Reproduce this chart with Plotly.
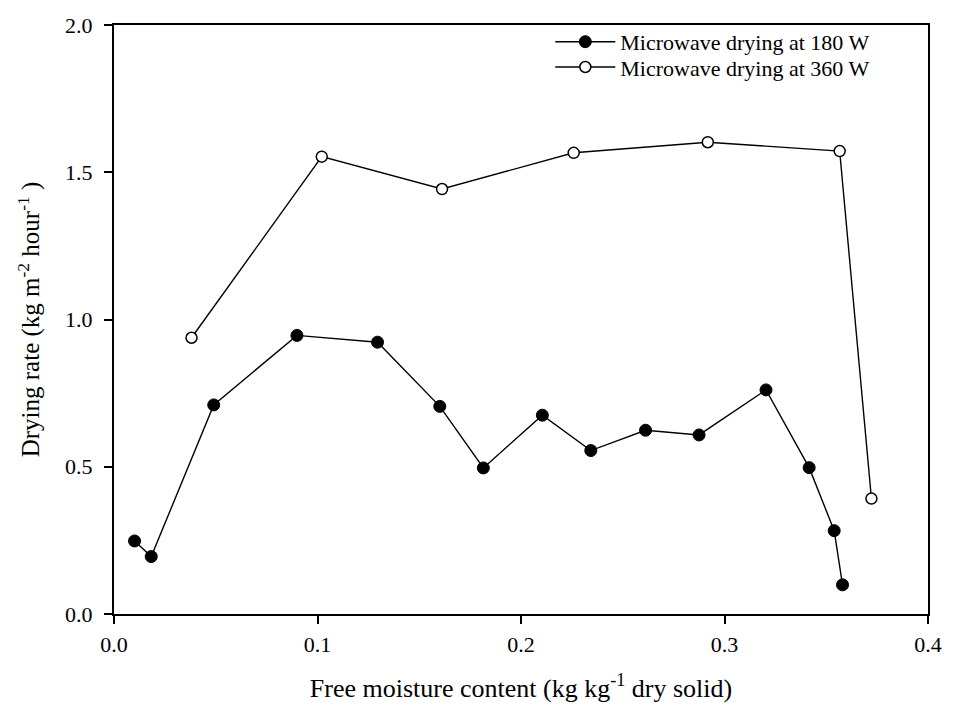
import plotly.graph_objects as go

# Microwave drying at 180 W
x_180 = [0.0101, 0.0183, 0.049, 0.0899, 0.1295, 0.1601, 0.1815, 0.2105, 0.2343, 0.2612, 0.2875, 0.3204, 0.3416, 0.3539, 0.358]
y_180 = [0.248, 0.195, 0.710, 0.946, 0.923, 0.705, 0.496, 0.675, 0.555, 0.624, 0.608, 0.761, 0.497, 0.283, 0.099]

# Microwave drying at 360 W
x_360 = [0.0381, 0.1021, 0.1612, 0.2259, 0.2918, 0.3566, 0.3722]
y_360 = [0.938, 1.553, 1.443, 1.566, 1.602, 1.572, 0.392]

x_ticks = [0.0, 0.1, 0.2, 0.3, 0.4]
y_ticks = [0.0, 0.5, 1.0, 1.5, 2.0]

FONT = "Liberation Serif, serif"

fig = go.Figure()
fig.add_trace(go.Scatter(
    x=x_180, y=y_180, mode="lines+markers", name="Microwave drying at 180 W",
    line=dict(color="black", width=1.4),
    marker=dict(symbol="circle", size=12, color="black", line=dict(color="black", width=1)),
    legend="legend",
))
fig.add_trace(go.Scatter(
    x=x_360, y=y_360, mode="lines+markers", name="Microwave drying at 360 W",
    line=dict(color="black", width=1.4),
    marker=dict(symbol="circle", size=11, color="white", line=dict(color="black", width=1.5)),
    legend="legend2",
))

axis_common = dict(
    showline=True, linecolor="black", linewidth=2, mirror=True,
    ticks="outside", ticklen=8, tickwidth=1.6, tickcolor="black",
    showgrid=False, zeroline=False,
    tickfont=dict(family=FONT, size=22, color="black"),
)

fig.update_xaxes(
    range=[0, 0.4], tickvals=x_ticks, ticktext=[f"{v:.1f}" for v in x_ticks],
    title=dict(text="Free moisture content (kg kg<sup>-1</sup> dry solid)",
               font=dict(family=FONT, size=26, color="black"), standoff=22),
    ticklabelstandoff=2,
    **axis_common,
)
fig.update_yaxes(
    range=[0, 2.0], tickvals=y_ticks, ticktext=[f"{v:.1f}" for v in y_ticks],
    title=dict(text="Drying rate (kg m<sup>-2</sup> hour<sup>-1</sup> )",
               font=dict(family=FONT, size=25, color="black"), standoff=18),
    ticklabelstandoff=7,
    **axis_common,
)

legend_style = dict(
    xanchor="left", yanchor="top",
    bgcolor="rgba(0,0,0,0)", borderwidth=0,
    font=dict(family=FONT, size=22, color="black"),
    itemwidth=60,
)

fig.update_layout(
    width=954, height=720,
    margin=dict(l=114, r=17, t=25, b=106),
    paper_bgcolor="white", plot_bgcolor="white",
    font=dict(family=FONT, color="black"),
    showlegend=True,
    legend=dict(x=0.536, y=1.007, **legend_style),
    legend2=dict(x=0.536, y=0.964, **legend_style),
)

fig.write_html("out.html")
